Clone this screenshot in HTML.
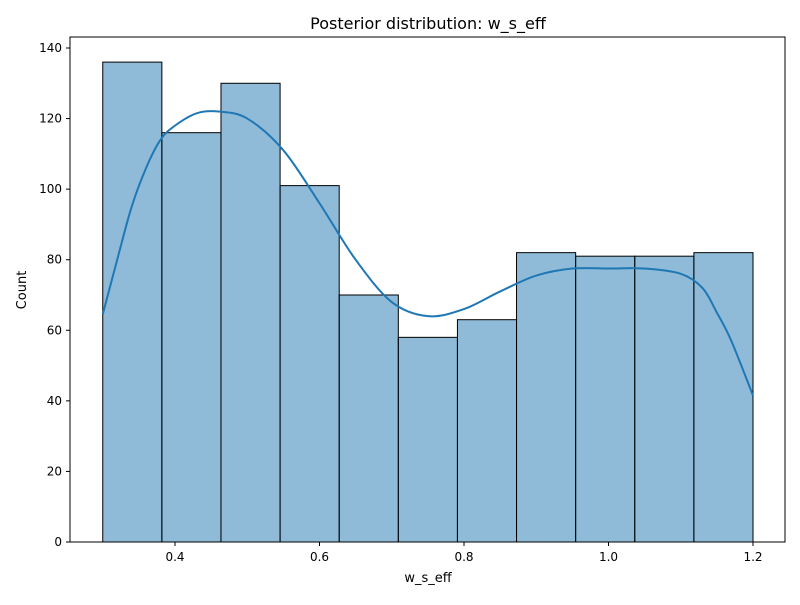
<!DOCTYPE html>
<html><head><meta charset="utf-8"><style>
body{margin:0;background:#fff;font-family:"Liberation Sans","DejaVu Sans",sans-serif;}
text{font-family:"DejaVu Sans","Liberation Sans",sans-serif;fill:#000;}
</style></head><body>
<svg id="chart" width="800" height="600">
<rect width="800" height="600" fill="#fff"/>
<text x="428" y="29" font-size="16" text-anchor="middle">Posterior distribution: w_s_eff</text>
<g id="bars"></g>
<path id="kde" fill="none" stroke="#1f77b4" stroke-width="2"/>
<rect x="70" y="37" width="715" height="505" fill="none" stroke="#000" stroke-width="1"/>
<g id="xticks"></g><g id="yticks"></g>
<text x="428" y="582" font-size="13" text-anchor="middle">w_s_eff</text>
<text x="26" y="290" font-size="13" text-anchor="middle" transform="rotate(-90 26 290)">Count</text>
</svg>
<script>
const binStart=0.3, binEnd=1.2;
const counts=[136,116,130,101,70,58,63,82,81,81,82];
const kdeX=[0.30,0.32,0.34,0.36,0.38,0.40,0.43,0.46,0.50,0.55,0.60,0.65,0.70,0.75,0.80,0.85,0.90,0.95,1.00,1.05,1.10,1.13,1.15,1.17,1.20];
const kdeY=[64.5,80,95,106,114,118,121.5,122,120,111,96,80,68,64,66,71,75.5,77.5,77.5,77.5,76,72,65,57,41.5];
const xTicks=[0.4,0.6,0.8,1.0,1.2];
const yTicks=[0,20,40,60,80,100,120,140];
const sx=v=>175+(v-0.4)*722.5;
const sy=v=>542-v*3.5286;
const NS="http://www.w3.org/2000/svg";
const bars=document.getElementById('bars');
const w=(binEnd-binStart)/counts.length;
counts.forEach((c,i)=>{
 const r=document.createElementNS(NS,'rect');
 const x0=sx(binStart+i*w),x1=sx(binStart+(i+1)*w);
 r.setAttribute('x',x0);r.setAttribute('y',sy(c));
 r.setAttribute('width',x1-x0);r.setAttribute('height',sy(0)-sy(c));
 r.setAttribute('fill','rgba(31,119,180,0.5)');r.setAttribute('stroke','#000');r.setAttribute('stroke-width','1');
 
 
 bars.appendChild(r);
});
// Catmull-Rom smooth path
const pts=kdeX.map((x,i)=>[sx(x),sy(kdeY[i])]);
let d='M'+pts[0][0]+','+pts[0][1];
for(let i=0;i<pts.length-1;i++){
 const p0=pts[Math.max(0,i-1)],p1=pts[i],p2=pts[i+1],p3=pts[Math.min(pts.length-1,i+2)];
 const c1=[p1[0]+(p2[0]-p0[0])/6,p1[1]+(p2[1]-p0[1])/6];
 const c2=[p2[0]-(p3[0]-p1[0])/6,p2[1]-(p3[1]-p1[1])/6];
 d+=` C${c1[0]},${c1[1]} ${c2[0]},${c2[1]} ${p2[0]},${p2[1]}`;
}
document.getElementById('kde').setAttribute('d',d);
const xt=document.getElementById('xticks');
xTicks.forEach(v=>{
 const l=document.createElementNS(NS,'line');
 l.setAttribute('x1',sx(v));l.setAttribute('x2',sx(v));l.setAttribute('y1',542);l.setAttribute('y2',546);l.setAttribute('stroke','#000');
 
 
 xt.appendChild(l);
 const t=document.createElementNS(NS,'text');
 t.setAttribute('x',sx(v));t.setAttribute('y',561);t.setAttribute('font-size','12');t.setAttribute('text-anchor','middle');
 t.textContent=v.toFixed(1);
 
 
 xt.appendChild(t);
});
const yt=document.getElementById('yticks');
yTicks.forEach(v=>{
 const l=document.createElementNS(NS,'line');
 l.setAttribute('x1',66);l.setAttribute('x2',70);l.setAttribute('y1',sy(v));l.setAttribute('y2',sy(v));l.setAttribute('stroke','#000');
 
 
 yt.appendChild(l);
 const t=document.createElementNS(NS,'text');
 t.setAttribute('x',62);t.setAttribute('y',sy(v)+4);t.setAttribute('font-size','12');t.setAttribute('text-anchor','end');
 t.textContent=v;
 
 
 yt.appendChild(t);
});
</script>
</body></html>
